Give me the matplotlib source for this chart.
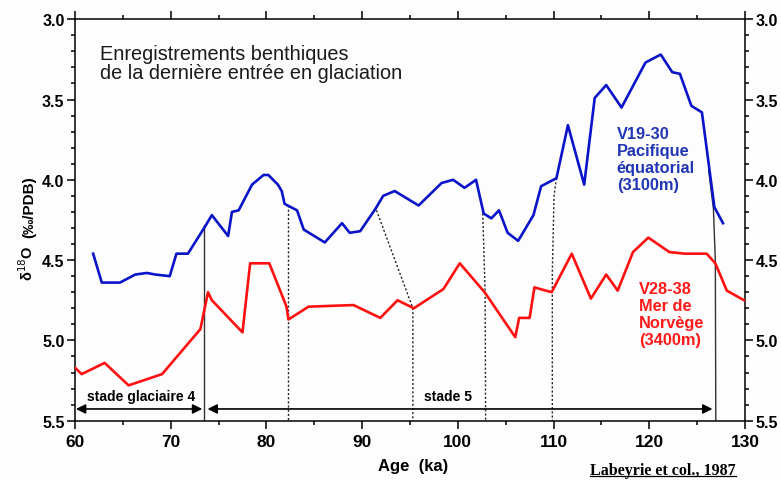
import numpy as np
import matplotlib
matplotlib.use("Agg")
import matplotlib.pyplot as plt
from matplotlib.ticker import MultipleLocator
from matplotlib.lines import Line2D

plt.rcParams['font.family'] = ['Liberation Sans', 'DejaVu Sans']

# V19-30 Pacifique equatorial (3100m)
blue_age = [61.9, 62.8, 64.7, 66.3, 67.5, 68.4, 69.9, 70.6, 71.8, 73.6, 74.3, 76.0,
            76.4, 77.1, 78.5, 79.7, 80.2, 81.2, 81.6, 81.9, 83.2, 83.9, 86.1, 87.9,
            88.7, 89.8, 91.4, 92.2, 93.4, 95.9, 98.3, 99.5, 100.7, 101.9, 102.7,
            103.5, 104.3, 105.2, 106.3, 107.9, 108.7, 110.3, 111.5, 113.2, 114.3,
            115.5, 117.1, 119.6, 121.2, 122.4, 123.2, 124.4, 125.5, 126.8, 127.7]
blue_d18o = [4.46, 4.64, 4.64, 4.59, 4.58, 4.59, 4.60, 4.46, 4.46, 4.29, 4.22, 4.35,
             4.20, 4.19, 4.03, 3.97, 3.97, 4.03, 4.07, 4.15, 4.19, 4.31, 4.39, 4.27,
             4.33, 4.32, 4.18, 4.10, 4.07, 4.16, 4.02, 4.00, 4.05, 4.00, 4.21,
             4.24, 4.19, 4.33, 4.38, 4.22, 4.04, 3.99, 3.66, 4.03, 3.49,
             3.41, 3.55, 3.27, 3.22, 3.33, 3.34, 3.54, 3.58, 4.17, 4.27]

# V28-38 Mer de Norvege (3400m)
red_age = [60.0, 60.7, 63.1, 65.6, 69.1, 73.1, 73.9, 74.3, 77.5, 78.3, 80.3, 82.1,
           82.3, 84.4, 89.1, 91.9, 93.7, 95.4, 98.5, 100.2, 102.8, 106.0, 106.4,
           107.5, 108.0, 109.8, 111.9, 113.9, 115.5, 116.7, 118.3, 119.9, 122.1,
           123.7, 126.0, 126.9, 128.1, 129.9]
red_d18o = [5.17, 5.21, 5.14, 5.28, 5.21, 4.93, 4.70, 4.75, 4.95, 4.52, 4.52, 4.79,
            4.87, 4.79, 4.78, 4.86, 4.75, 4.80, 4.68, 4.52, 4.70, 4.98, 4.86,
            4.86, 4.67, 4.70, 4.46, 4.74, 4.59, 4.69, 4.45, 4.36, 4.45,
            4.46, 4.46, 4.52, 4.69, 4.75]

# correlation lines between the two records (age, d18O)
solid_links = [([73.5, 73.5], [4.28, 5.5]),
               ([126.2, 126.7, 126.9, 126.95], [3.94, 4.18, 4.50, 5.5])]
dotted_links = [([82.3, 82.3], [4.16, 5.5]),
                ([91.5, 95.3, 95.3], [4.19, 4.80, 5.5]),
                ([102.6, 102.85, 102.9], [4.21, 4.70, 5.5]),
                ([110.3, 110.05, 109.87, 109.87], [3.99, 4.10, 4.58, 5.5])]

fig = plt.figure(figsize=(7.81, 4.81), dpi=100)
fig.patch.set_facecolor('#fdfdfd')
ax = fig.add_axes([0.096, 0.1233, 0.8579, 0.8347])
ax.set_facecolor('#fdfdfd')

ax.plot(blue_age, blue_d18o, color='#0a14c8', lw=1.9, zorder=3)
ax.plot(red_age, red_d18o, color='#ff1010', lw=1.9, zorder=3)

for xs, ys in solid_links:
    ax.plot(xs, ys, color='#333333', lw=1.0, zorder=2)
for xs, ys in dotted_links:
    ax.plot(xs, ys, color='#222222', lw=1.0, ls=(0, (1.5, 1.5)), zorder=2)

# stage arrows
arrow_y = 5.427
for x0, x1 in [(60.1, 73.3), (73.85, 126.6)]:
    ax.annotate('', xy=(x0, arrow_y), xytext=(x1, arrow_y),
                arrowprops=dict(arrowstyle='<|-|>', color='black', lw=1.2,
                                mutation_scale=14, shrinkA=0, shrinkB=0))
ax.text(66.9, 5.345, 'stade glaciaire 4', ha='center', va='center',
        fontsize=10, fontweight='bold')
ax.text(99.0, 5.345, 'stade 5', ha='center', va='center',
        fontsize=10, fontweight='bold')

ax.text(62.6, 3.272, 'Enregistrements benthiques\nde la dernière entrée en glaciation',
        ha='left', va='center', fontsize=14.3, color='#1a1a1a', linespacing=1.05)
ax.text(116.6, 3.87, 'V19-30\nPacifique\néquatorial\n(3100m)', ha='left', va='center',
        fontsize=11.8, fontweight='bold', color='#2036b4', linespacing=1.15)
ax.text(118.9, 4.836, 'V28-38\nMer de\nNorvège\n(3400m)', ha='left', va='center',
        fontsize=11.8, fontweight='bold', color='#ff1a1a', linespacing=1.15)

ax.set_xlim(60, 130)
ax.set_ylim(5.5, 3.0)
ax.xaxis.set_major_locator(MultipleLocator(10))
ax.xaxis.set_minor_locator(MultipleLocator(5))
ax.yaxis.set_major_locator(MultipleLocator(0.5))
ax.yaxis.set_minor_locator(MultipleLocator(0.1))
ax.yaxis.set_major_formatter(plt.FormatStrFormatter('%.1f'))
ax.tick_params(which='both', direction='out', top=True, right=True,
               labelright=True, width=1.1)
ax.tick_params(which='major', length=5.5)
ax.tick_params(which='minor', length=3)
ax.tick_params(axis='x', which='major', labelsize=12.5, pad=4)
ax.tick_params(axis='y', which='major', labelsize=11.5, pad=2)
for lab in ax.get_xticklabels() + ax.get_yticklabels():
    lab.set_fontweight('bold')
for sp in ax.spines.values():
    sp.set_linewidth(1.1)

ax.text(95.3, 5.78, 'Age  (ka)', ha='center', va='center', fontsize=12,
        fontweight='bold', clip_on=False)

fig.text(0.034, 1 - 263 / 481, r'δ$^{18}$O', rotation=90, ha='center', va='center',
         fontsize=10.5, fontweight='bold')
fig.text(0.038, 1 - 207 / 481, '(‰/PDB)', rotation=90, ha='center', va='center',
         fontsize=11, fontweight='bold')

cite = fig.text(663 / 781, 1 - 471 / 481, 'Labeyrie et col., 1987', ha='center',
                va='center', fontsize=11.5, fontweight='bold',
                family=['Liberation Serif', 'DejaVu Serif'])
fig.canvas.draw()
bb = cite.get_window_extent().transformed(fig.transFigure.inverted())
fig.add_artist(Line2D([bb.x0, bb.x1], [bb.y0 + 0.004, bb.y0 + 0.004], color='black',
                      lw=0.9, transform=fig.transFigure))

fig.savefig('out.png', dpi=100, facecolor=fig.get_facecolor())
